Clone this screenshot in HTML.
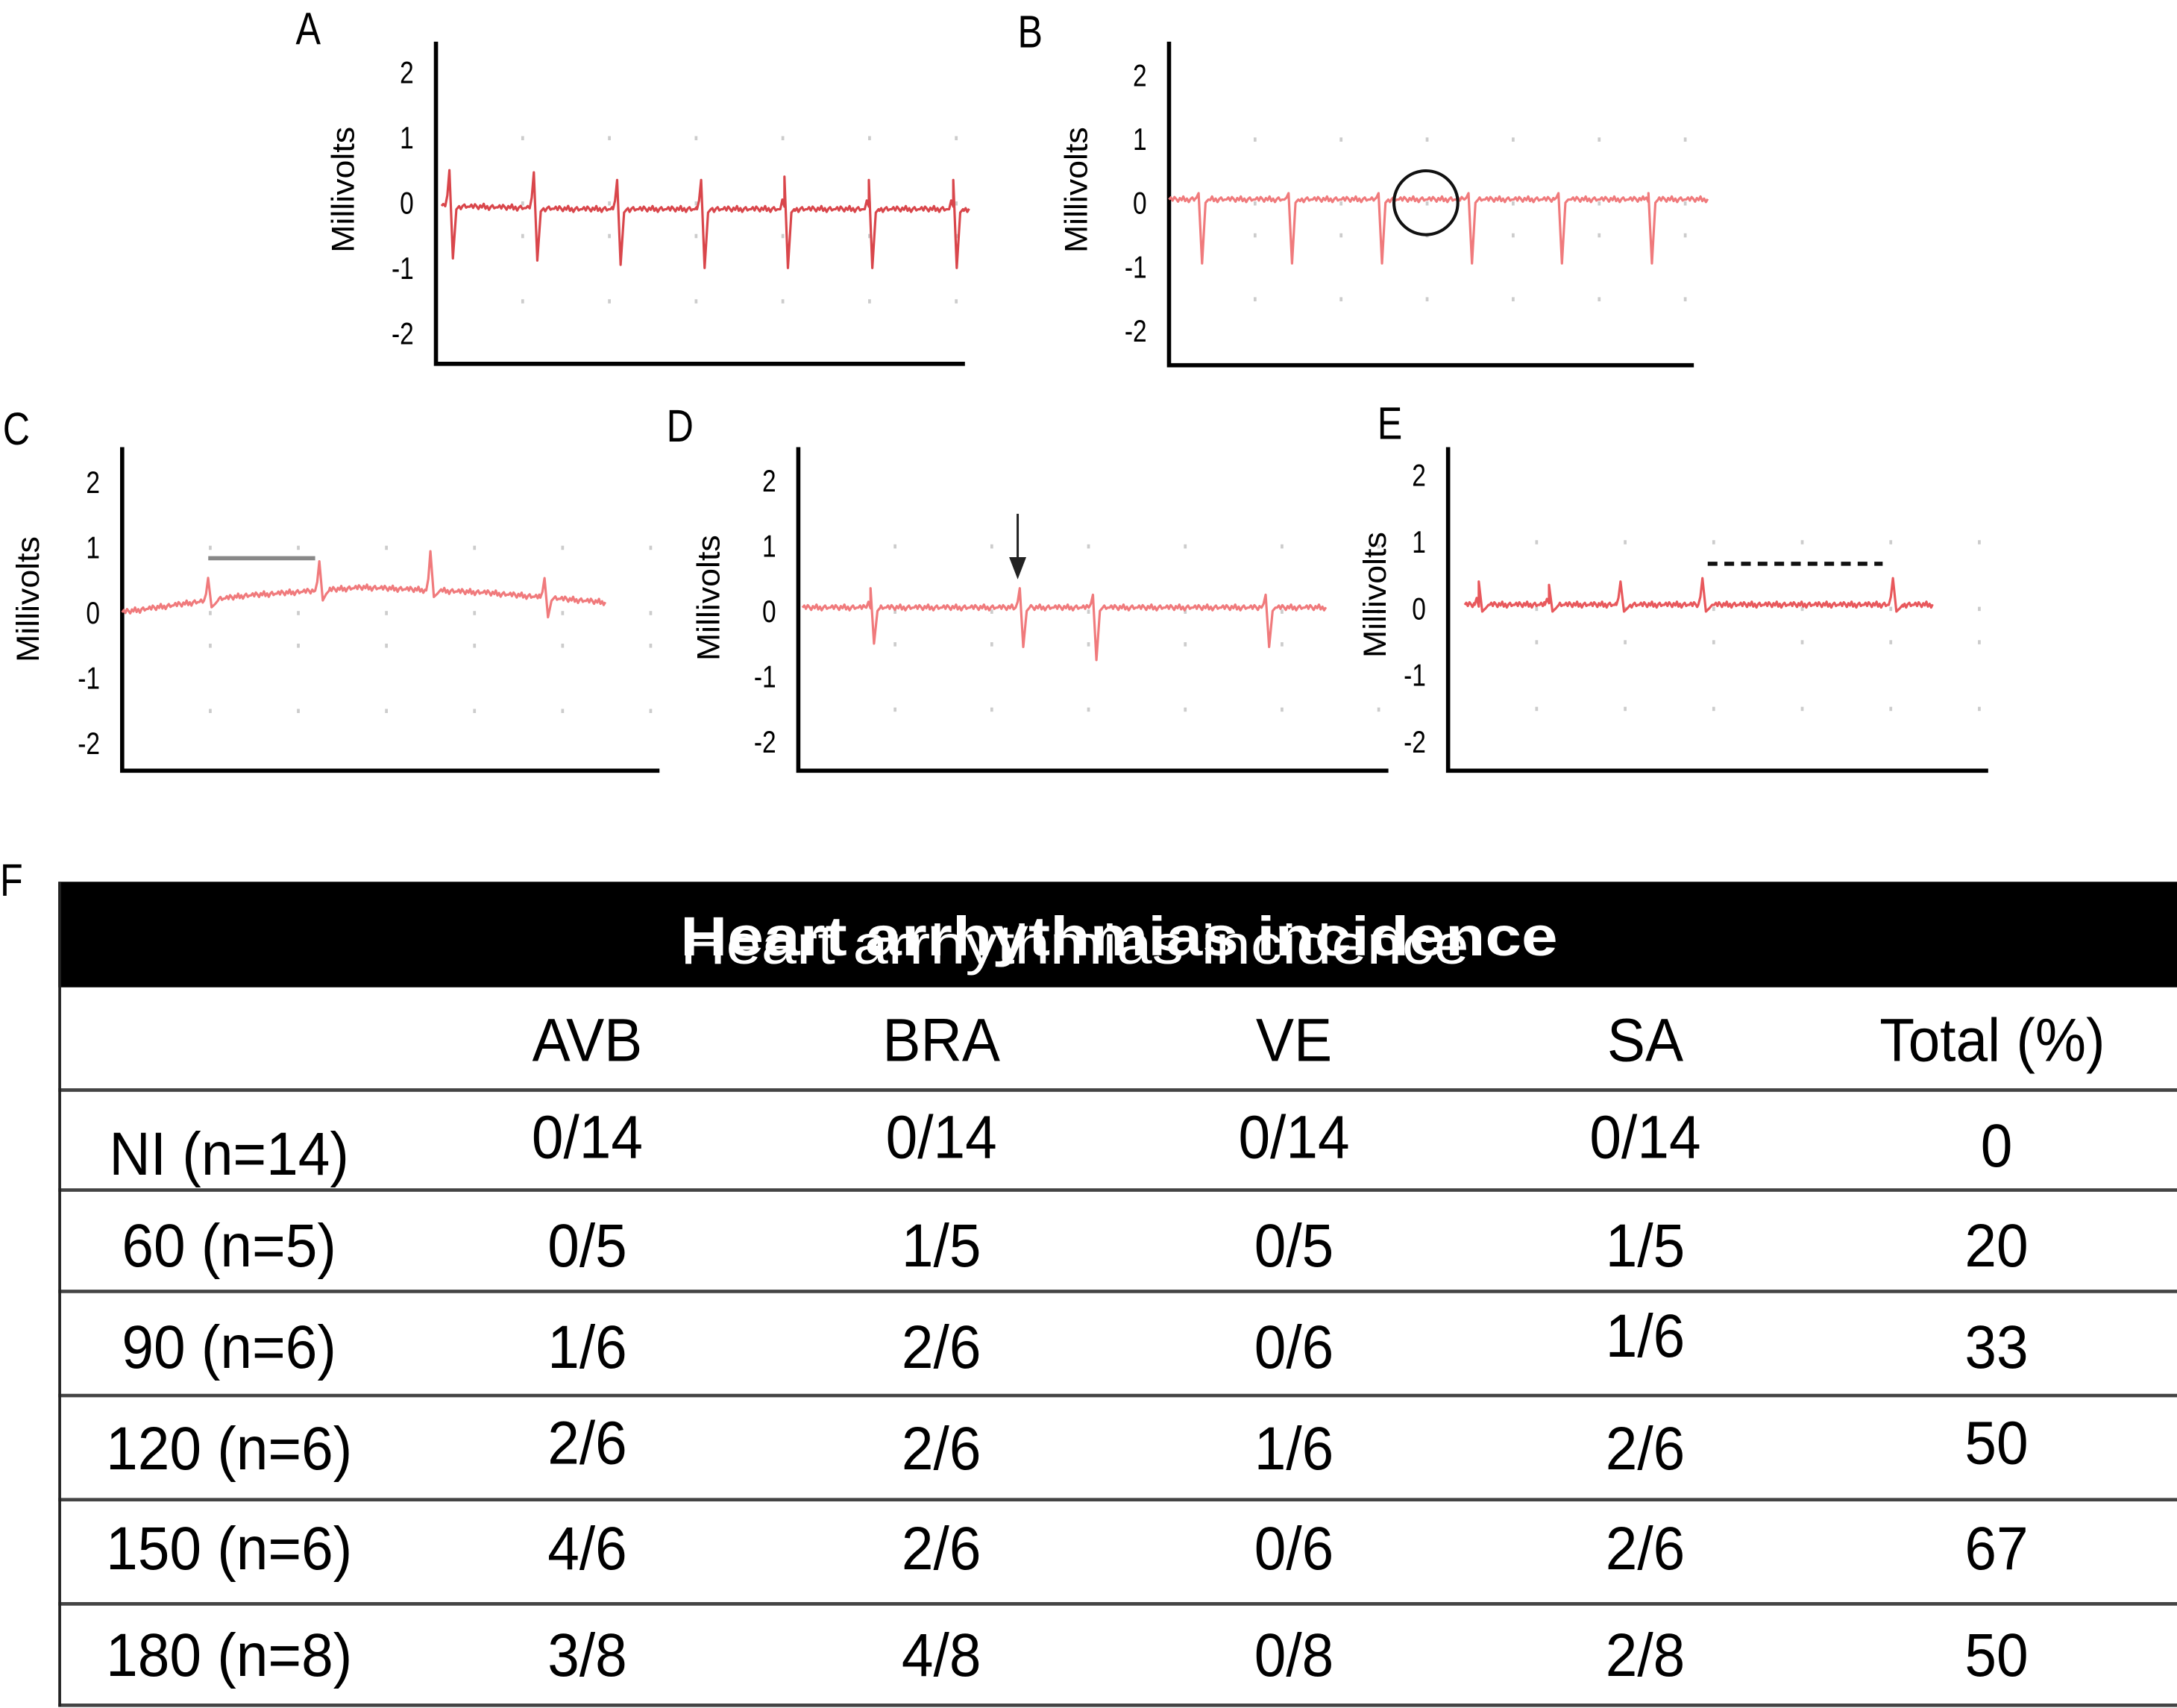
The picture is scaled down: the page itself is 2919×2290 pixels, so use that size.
<!DOCTYPE html>
<html><head><meta charset="utf-8">
<style>
html,body{margin:0;padding:0;background:#fff;}
svg{display:block;}
text{font-family:"Liberation Sans",Arial,sans-serif;}
</style></head>
<body>
<svg id="fig" width="2919" height="2290" viewBox="0 0 1568 1230" preserveAspectRatio="none" xmlns="http://www.w3.org/2000/svg">
<g id="panels"></g>
<g id="table"></g>
</svg>
<script>
// ---- ECG data (beat positions as fraction of trace, R and S amplitudes in mV) ----
const beatsA = [0.015,0.175,0.333,0.492,0.65,0.81,0.97];
const rA = [0.55,0.55,0.45,0.45,0.5,0.45,0.45];
const sA = [-0.8,-0.8,-0.85,-0.9,-0.9,-0.9,-0.9];
const baseA = [-0.05,-0.1,-0.1,-0.1,-0.1];

const beatsB = [0.055,0.222,0.389,0.556,0.723,0.89];
const rB = [0.1,0.1,0.1,0.1,0.1,0.1];
const sB = [-1.0,-1.0,-1.0,-1.0,-1.0,-1.0];
const baseB = [0.05,0.05,0.05,0.05,0.05];

const beatsC = [0.178,0.408,0.638,0.874];
const rC = [0.35,0.45,0.6,0.3];
const sC = [-0.1,-0.15,-0.1,-0.3];
const baseC = [0.0,0.25,0.38,0.3,0.15];

const beatsD = [0.13,0.415,0.555,0.885];
const rD = [0.3,0.3,0.2,0.2];
const sD = [-0.55,-0.6,-0.8,-0.6];
const baseD = [0.05,0.05,0.05,0.05,0.05];

const beatsE = [0.03,0.18,0.333,0.508,0.915];
const rE = [0.35,0.3,0.35,0.4,0.4];
const sE = [-0.1,-0.1,-0.1,-0.1,-0.1];
const baseE = [0.05,0.05,0.05,0.05,0.05];

const wiggle = [0,0.04,-0.02,0.05,0.01,-0.04,0.03,-0.01,0.06,-0.03,0.02,-0.05,0.01,0.04,-0.02,0];
const yTicks = [2,1,0,-1,-2];

const panels = [
 {id:'a',label:'A',lx:213,ly:32,ax:314,top:30,bot:262,right:695,zero:146,unit:47,t0:318,t1:698,lblX:247,beats:beatsA,r:rA,s:sA,base:baseA,color:'#d9464b'},
 {id:'b',label:'B',lx:733,ly:34,ax:842,top:30,bot:263,right:1220,zero:146,unit:46,t0:842,t1:1230,lblX:775,beats:beatsB,r:rB,s:sB,base:baseB,color:'#f07a7c'},
 {id:'c',label:'C',lx:2,ly:320,ax:88,top:322,bot:555,right:475,zero:441,unit:47,t0:88,t1:436,lblX:20,beats:beatsC,r:rC,s:sC,base:baseC,color:'#f07a7c'},
 {id:'d',label:'D',lx:480,ly:318,ax:575,top:322,bot:555,right:1000,zero:440,unit:47,t0:578,t1:955,lblX:510,beats:beatsD,r:rD,s:sD,base:baseD,color:'#f07a7c'},
 {id:'e',label:'E',lx:992,ly:316,ax:1043,top:322,bot:555,right:1432,zero:438,unit:48,t0:1055,t1:1392,lblX:990,beats:beatsE,r:rE,s:sE,base:baseE,color:'#e8585c'}
];
const NS='http://www.w3.org/2000/svg';
function mk(tag,attrs,parent){const e=document.createElementNS(NS,tag);for(const k in attrs)e.setAttribute(k,attrs[k]);parent.appendChild(e);return e;}
const pg=document.getElementById('panels');
panels.forEach(p=>{
  const g=mk('g',{},pg);
  
  
  const yS=v=>p.zero-v*p.unit;
  const xS=f=>p.t0+f*(p.t1-p.t0);
  const L=mk('text',{x:0,y:0,'font-size':30,transform:`translate(${p.lx},${p.ly}) scale(0.9,1.1)`},g);L.textContent=p.label;
  
  
  const ax=mk('path',{d:`M${p.ax} ${p.top}V${p.bot}H${p.right}`,fill:'none',stroke:'#000','stroke-width':3},g);
  
  
  yTicks.forEach(t=>{const tt=mk('text',{x:0,y:0,'font-size':20,'text-anchor':'end',transform:`translate(${p.ax-16},${yS(t)+8}) scale(0.9,1.12)`},g);tt.textContent=t;
    
    });
  const yl=mk('text',{x:0,y:0,'font-size':24,'text-anchor':'middle',transform:`translate(${p.lblX+8},${yS(0.2)}) rotate(-90) scale(1,0.95)`},g);yl.textContent='Millivolts';
  
  
  for(let i=1;i<=6;i++){[1,0,-0.5,-1.5].forEach(v=>{mk('rect',{x:p.ax+i*(p.right-p.ax)/6.1-1,y:yS(v)-1,width:2,height:3,fill:'#ccc'},g);});}
  const N=300;let d='';
  const baseAt=f=>{const k=f*(p.base.length-1);const i=Math.min(Math.floor(k),p.base.length-2);const w=k-i;return p.base[i]*(1-w)+p.base[i+1]*w;};
  const pts=[];
  for(let i=0;i<=N;i++){const f=i/N;pts.push([xS(f),baseAt(f)+wiggle[i%wiggle.length]*0.8]);}
  p.beats.forEach((b,j)=>{const x=xS(b);const bl=baseAt(b);
    pts.push([x-3,bl],[x-1.5,bl+p.r[j]*0.3],[x,bl+p.r[j]],[x+2.5,bl+p.s[j]],[x+5,bl-0.05],[x+7,bl]);});
  const beatXs=p.beats.map(xS);
  const offs=[-3,-1.5,0,2.5,5,7];
  const fin=pts.filter(q=>!beatXs.some(bx=>q[0]>bx-3.2&&q[0]<bx+7.2&&!offs.some(o=>Math.abs(q[0]-(bx+o))<1e-6))).sort((a,b)=>a[0]-b[0]);
  fin.forEach((q,i)=>{d+=(i?'L':'M')+q[0].toFixed(1)+' '+yS(q[1]).toFixed(1);});
  const tr=mk('path',{d:d,fill:'none',stroke:p.color,'stroke-width':1.7,'stroke-linejoin':'round'},g);
  
  
});
(function(){
  const g=pg;
  const c=mk('circle',{cx:1027,cy:146,r:23,fill:'none',stroke:'#111','stroke-width':2.2},g);
  
  
  const gl=mk('line',{x1:150,y1:402,x2:227,y2:402,stroke:'#888','stroke-width':3},g);
  
  
  const ar=mk('path',{d:'M733 370V410M728 402L733 415L738 402Z',stroke:'#222','stroke-width':1.6,fill:'#222'},g);
  
  
  const dl=mk('line',{x1:1230,y1:406,x2:1356,y2:406,stroke:'#111','stroke-width':3,'stroke-dasharray':'7,5'},g);
  
  
})();
// ---- table data ----
const headers = ['AVB','BRA','VE','SA','Total (%)'];
const rowLabels = ['NI (n=14)','60 (n=5)','90 (n=6)','120 (n=6)','150 (n=6)','180 (n=8)'];
const avb = ['0/14','0/5','1/6','2/6','4/6','3/8'];
const bra = ['0/14','1/5','2/6','2/6','2/6','4/8'];
const ve = ['0/14','0/5','0/6','1/6','0/6','0/8'];
const sa = ['0/14','1/5','1/6','2/6','2/6','2/8'];
const total = ['0','20','33','50','67','50'];
(function(){
  const t=document.getElementById('table');
  const F=mk('text',{x:0,y:0,'font-size':30,transform:'translate(0,645) scale(0.9,1.1)'},t);F.textContent='F';
  
  
  const hb=mk('rect',{x:42,y:635,width:1526,height:76,fill:'#000'},t);
  
  
  const t1=mk('text',{x:490,y:688,'font-size':40,'font-weight':'bold',fill:'#fff',textLength:632,lengthAdjust:'spacingAndGlyphs'},t);t1.textContent='Heart arrhythmias incidence';
  
  
  const t2=mk('text',{x:490,y:694,'font-size':40,fill:'#fff',textLength:568,lengthAdjust:'spacingAndGlyphs'},t);t2.textContent='Heart arrhythmias incidence';
  
  
  const lines=[785,857,930,1005,1080,1155,1228];
  lines.forEach(y=>{const l=mk('line',{x1:42,y1:y,x2:1568,y2:y,stroke:'#444','stroke-width':2.5},t);
    
    });
  const lb=mk('line',{x1:43,y1:635,x2:43,y2:1229,stroke:'#222','stroke-width':2},t);
  
  
  const colX=[423,678,932,1185,1435];
  const tx=(x,y)=>`translate(${x},${y}) scale(0.98,1.05)`;
  headers.forEach((h,i)=>{const e=mk('text',{x:0,y:0,'font-size':42,'text-anchor':'middle',transform:tx(colX[i],764)},t);e.textContent=h;
    
    });
  const cols=[avb,bra,ve,sa,total];
  const rowY=[846,912,985,1058,1130,1207];
  rowLabels.forEach((r,j)=>{
    const e=mk('text',{x:0,y:0,'font-size':42,'text-anchor':'middle',transform:tx(165,rowY[j])},t);e.textContent=r;
    
    
    cols.forEach((c,i)=>{
      let y=rowY[j];
      if(j==0) y=(i<4)?834:840;
      if(j==2&&i==3) y-=8;
      if(j==3&&(i==0||i==4)) y-=4;
      const v=mk('text',{x:0,y:0,'font-size':42,'text-anchor':'middle',transform:tx(colX[i]+(i==4?3:0),y)},t);v.textContent=c[j];
      
      });
  });
})();
</script>
</body></html>
